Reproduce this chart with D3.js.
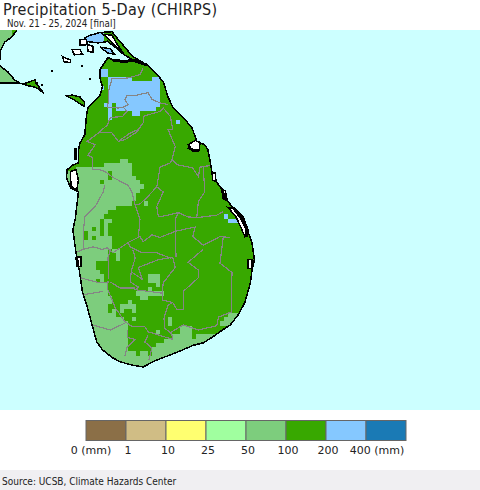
<!DOCTYPE html>
<html>
<head>
<meta charset="utf-8">
<script src="https://d3js.org/d3.v7.min.js"></script>
<style>
body { margin: 0; background: #fff; }
svg { display: block; }
text { font-family: "DejaVu Sans", sans-serif; fill: #222; }
text.condensed { font-family: "DejaVu Sans Condensed", "DejaVu Sans", sans-serif; font-stretch: condensed; }
</style>
</head>
<body>
<div id="chart"></div>
<script>
var width = 480;
var height = 490;

var titleText = "Precipitation 5-Day (CHIRPS)";
var subtitleText = "Nov. 21 - 25, 2024 [final]";
var sourceText = "Source: UCSB, Climate Hazards Center";

var classLabels = ["0 (mm)", "1", "10", "25", "50", "100", "200", "400 (mm)"];
var classColors = ["#8b6f47", "#d0bd85", "#ffff70", "#a0ff9f", "#7dcd7d", "#38a800", "#85c8ff", "#1a7ab5"];

// coastline, lon/lat
var mainland = [[79.96,9.76],[80.03,9.79],[80.15,9.82],[80.30,9.83],[80.36,9.76],[80.46,9.65],[80.56,9.54],[80.74,9.44],[80.86,9.33],[80.94,9.25],[81.00,9.07],[81.06,8.95],[81.18,8.84],[81.30,8.71],[81.36,8.55],[81.46,8.51],[81.50,8.45],[81.53,8.30],[81.56,8.14],[81.65,8.02],[81.71,7.96],[81.75,7.85],[81.81,7.78],[81.93,7.67],[81.99,7.52],[82.05,7.37],[82.08,7.17],[82.05,7.05],[82.03,6.90],[81.96,6.67],[81.88,6.53],[81.78,6.41],[81.68,6.35],[81.56,6.27],[81.44,6.20],[81.31,6.17],[81.19,6.12],[81.03,6.06],[80.86,6.00],[80.69,5.92],[80.55,5.94],[80.40,5.98],[80.30,6.03],[80.18,6.12],[80.11,6.21],[80.05,6.41],[79.99,6.62],[79.93,6.80],[79.89,7.05],[79.86,7.19],[79.81,7.52],[79.84,7.64],[79.88,7.96],[79.78,8.01],[79.73,8.13],[79.74,8.22],[79.80,8.27],[79.88,8.30],[79.88,8.45],[79.90,8.53],[79.96,8.63],[79.98,8.84],[80.00,8.95],[80.15,9.09],[80.18,9.19],[80.15,9.29],[80.15,9.39],[80.25,9.53],[80.31,9.50],[80.46,9.48],[80.56,9.50],[80.44,9.57],[80.34,9.65],[80.24,9.72],[80.21,9.71],[80.13,9.70],[80.03,9.71],[79.96,9.72]];
var mannar = [[79.73,9.08],[79.80,9.09],[79.90,9.07],[79.96,9.00],[79.95,8.96],[79.85,9.02],[79.78,9.06]];
var lagoonShore = [[80.15,9.65],[80.28,9.63],[80.33,9.57],[80.25,9.58]];
var indiaNorth = [[78.9,9.85],[79.11,9.85],[79.05,9.77],[78.96,9.71],[78.91,9.62],[78.9,9.50]];
var indiaSouth = [[78.9,9.43],[79.0,9.36],[79.08,9.27],[79.15,9.23],[78.9,9.23]];
var rameswaram = [[79.19,9.22],[79.28,9.25],[79.34,9.27],[79.35,9.23],[79.45,9.11],[79.35,9.18],[79.25,9.20]];

// lagoons and little islands, drawn white
var waterBodies = [
	[[80.19,9.80],[80.30,9.79],[80.36,9.69],[80.44,9.58],[80.36,9.65],[80.26,9.74]],
	[[79.78,8.20],[79.85,8.22],[79.88,8.10],[79.86,7.98],[79.79,8.03],[79.78,8.13]],
	[[81.25,8.51],[81.34,8.56],[81.40,8.54],[81.39,8.45],[81.31,8.45]],
	[[81.75,7.78],[81.81,7.77],[81.91,7.65],[81.98,7.52],[81.96,7.44],[81.91,7.55],[81.85,7.67]],
	[[81.55,8.18],[81.59,8.18],[81.60,8.08],[81.56,8.10]],
	[[81.68,7.99],[81.72,7.97],[81.73,7.86],[81.69,7.88]],
	[[79.87,7.20],[79.91,7.20],[79.91,7.09],[79.87,7.09]],
	[[82.00,7.17],[82.05,7.17],[82.05,7.07],[82.00,7.07]],
	[[79.68,9.54],[79.78,9.50],[79.78,9.47],[79.70,9.48]],
	[[79.80,9.62],[79.90,9.62],[79.93,9.57],[79.83,9.56]],
	[[79.90,9.74],[79.98,9.74],[79.99,9.68],[79.90,9.67]],
	[[79.99,9.68],[80.06,9.66],[80.06,9.59],[80.00,9.60]]
];
// shores that read as solid black at this scale
var heavyCoast = [
	[[80.31,9.50],[80.46,9.48],[80.56,9.50],[80.74,9.44]],
	[[81.25,8.48],[81.31,8.45],[81.39,8.45]],
	[[81.81,7.78],[81.93,7.67],[81.99,7.52],[81.98,7.44]],
	[[79.85,8.47],[79.84,8.40],[79.85,8.33]],
	[[81.68,7.99],[81.70,7.88]],
	[[79.86,7.20],[79.87,7.09]]
];
var isletLon = [80.03, 79.55, 79.93, 79.42, 79.36];
var isletLat = [9.28, 9.37, 9.43, 9.21, 9.23];

// district lines, lon/lat
var districts = [
	[[80.69,9.41],[80.65,9.33],[80.50,9.29],[80.30,9.28],[80.26,9.15],[80.26,9.04],[80.24,8.95],[80.38,8.94],[80.44,8.95],[80.50,8.98],[80.46,9.04],[80.49,9.09],[80.61,9.09],[80.75,9.12],[80.80,9.04],[80.90,9.00],[81.00,8.98]],
	[[80.44,8.95],[80.49,8.90],[80.43,8.84],[80.28,8.83],[80.24,8.74],[80.13,8.65]],
	[[80.69,8.84],[80.75,8.86],[80.90,8.90],[80.94,8.94],[81.03,8.84],[81.06,8.69],[81.00,8.69],[81.09,8.49],[81.05,8.34],[81.03,8.30],[80.90,8.25],[80.86,8.02],[80.74,7.90],[80.65,7.82],[80.59,7.81],[80.55,7.96],[80.50,8.04],[80.31,8.13],[80.21,8.20],[80.15,8.22],[80.06,8.22],[80.06,8.36],[80.00,8.39],[80.09,8.51],[79.99,8.55],[80.13,8.65],[80.30,8.65],[80.38,8.55],[80.46,8.57],[80.61,8.66],[80.69,8.77],[80.69,8.84]],
	[[80.38,8.55],[80.53,8.65],[80.63,8.69],[80.69,8.77]],
	[[81.05,8.34],[81.11,8.28],[81.31,8.24],[81.38,8.14],[81.40,8.25],[81.53,8.27]],
	[[81.44,8.25],[81.46,7.96],[81.38,7.85],[81.36,7.66],[81.25,7.67],[81.13,7.72],[81.00,7.69],[80.88,7.67],[80.86,7.79],[80.94,7.96],[80.86,8.02]],
	[[81.13,7.72],[81.09,7.64],[81.10,7.20]],
	[[81.36,7.66],[81.61,7.69],[81.69,7.73]],
	[[80.21,8.04],[80.19,7.96],[80.09,7.79],[79.96,7.67],[79.94,7.48],[79.94,7.29],[79.86,7.26]],
	[[79.94,7.29],[80.06,7.32],[80.18,7.29],[80.24,7.31],[80.31,7.25],[80.50,7.37],[80.65,7.44],[80.69,7.38],[80.80,7.46],[80.90,7.43],[81.09,7.50],[81.18,7.52],[81.34,7.55],[81.31,7.44],[81.44,7.34],[81.65,7.44],[81.78,7.43]],
	[[80.59,7.81],[80.65,7.64],[80.63,7.44]],
	[[80.50,7.37],[80.53,7.32],[80.68,7.25],[80.86,7.25],[81.03,7.19],[81.06,7.20]],
	[[81.69,7.43],[81.65,7.13],[81.80,7.02],[81.79,6.56],[81.63,6.50],[81.61,6.40],[81.38,6.35],[81.19,6.41],[81.03,6.32],[80.96,6.37],[80.95,6.49],[81.00,6.64],[81.06,6.67]],
	[[80.56,7.29],[80.59,7.19],[80.54,7.03],[80.53,6.91],[80.63,6.85],[80.59,6.82],[80.93,6.78],[80.94,6.90],[81.09,7.08],[81.06,7.20]],
	[[80.63,7.08],[80.88,7.17],[81.06,7.20]],
	[[80.63,7.08],[80.68,6.94],[80.54,7.03]],
	[[81.44,7.29],[81.25,7.14],[81.38,7.05],[81.38,6.96],[81.19,6.80],[81.19,6.59],[81.11,6.59],[81.06,6.67],[80.93,6.70],[80.93,6.78]],
	[[79.90,6.96],[80.15,6.90],[80.25,6.91],[80.24,6.84],[80.34,6.61],[80.46,6.45],[80.55,6.39],[80.71,6.39],[80.75,6.33],[80.99,6.26],[81.06,6.24],[81.05,6.29],[81.03,6.32]],
	[[80.28,6.91],[80.40,6.84],[80.59,6.84]],
	[[79.93,6.76],[80.19,6.80]],
	[[80.05,6.41],[80.28,6.35],[80.46,6.43]],
	[[80.49,6.35],[80.50,6.26],[80.59,6.24],[80.49,6.15],[80.46,6.04]],
	[[80.75,6.29],[80.71,6.21],[80.80,6.14],[80.76,6.00]],
	[[80.28,7.29],[80.25,7.19],[80.26,6.94]]
];

// rainfall grid, 0.05 degree cells. everything on land not listed is 100-200 mm
var gridLon = 79.65;
var gridLat = 9.85;
var cellDeg = 0.05;
// [row, first col, end col]
var lightRuns = [
	[0,-15,-12],[1,-15,-12],[2,-15,-9],[3,-15,-9],[4,-15,-9],[5,-15,-9],[6,-15,-9],[7,-15,-9],[8,-15,-9],[9,-15,-9],[10,-15,-9],[11,-15,-9],[12,-15,-9],
	[30,15,17],[31,11,18],[32,4,18],[33,0,12],[33,13,18],[34,0,12],[34,13,19],[35,0,10],[35,11,20],[36,0,21],[37,0,20],[38,0,19],[39,0,19],[40,0,18],[40,21,22],
	[41,0,14],[42,0,12],[43,0,11],[44,0,10],[44,11,13],[45,0,10],[45,11,12],[46,0,8],[46,9,10],[46,11,12],[47,0,6],[47,7,10],[47,11,12],[48,0,6],[48,7,8],[48,9,13],
	[49,0,13],[50,0,13],[51,0,12],[51,13,15],[52,0,12],[52,14,15],[53,0,12],[53,14,15],[54,0,9],[55,0,9],[56,0,10],[57,0,11],[57,22,25],[58,0,9],[58,10,11],[58,22,25],
	[59,0,12],[59,24,25],[60,0,12],[60,22,23],[61,0,12],[61,19,26],[62,0,13],[62,20,22],[63,0,13],[63,17,18],[64,0,12],[64,15,19],[65,0,12],[65,13,14],[65,15,16],[65,18,19],
	[66,0,14],[66,42,45],[67,0,16],[67,18,19],[67,27,28],[67,41,44],[68,0,17],[68,27,28],[68,40,44],[69,0,17],[69,30,33],[70,0,17],[70,24,25],[70,30,33],
	[71,0,17],[71,28,33],[71,34,42],[72,0,17],[72,26,44],[73,0,17],[73,24,60],[74,0,17],[74,23,60],[75,0,19],[75,20,22],[75,23,60],
	[76,0,60],[77,0,60],[78,0,60],[79,0,60]
];
var blueRuns = [
	[0,7,11],[1,6,11],[2,6,11],[3,6,11],[4,9,13],[5,9,13],
	[9,10,12],[10,10,12],[11,12,18],[11,23,25],[12,12,25],[13,10,11],[13,12,25],[14,12,25],[15,12,25],[16,12,25],
	[17,11,13],[17,14,25],[18,12,13],[18,14,24],[19,12,13],[19,18,20],[20,12,13],[21,29,30],[43,41,42],[44,42,45]
];

var landShapes = [mainland, mannar, lagoonShore, indiaNorth, indiaSouth, rameswaram];
var closedCoast = [mainland, mannar, lagoonShore, rameswaram];
// the Indian shore runs off the frame, so it is not closed
var openCoast = [indiaNorth.slice(1), indiaSouth];

var x = d3.scaleLinear().domain([78.9, 84.9]).range([0, 480]);
var y = d3.scaleLinear().domain([9.85, 5.44]).range([30, 408]);
var line = d3.line().x(function(d) { return x(d[0]); }).y(function(d) { return y(d[1]); });
function ring(d) { return line(d) + "Z"; }

var svg = d3.select("#chart").append("svg")
	.attr("width", width)
	.attr("height", height);

svg.append("rect").attr("width", width).attr("height", height).attr("fill", "#fff");

// sea
svg.append("rect")
	.attr("x", 0).attr("y", 30)
	.attr("width", width).attr("height", 380)
	.attr("fill", "#ccffff");

svg.append("clipPath").attr("id", "land")
	.selectAll("path").data(landShapes).enter().append("path").attr("d", ring);
svg.append("clipPath").attr("id", "frame")
	.append("rect").attr("x", 0).attr("y", 30).attr("width", width).attr("height", 380);

var map = svg.append("g").attr("clip-path", "url(#frame)");

map.selectAll("path.land").data(landShapes).enter().append("path")
	.attr("class", "land")
	.attr("d", ring)
	.attr("fill", classColors[5]);

function drawRuns(runs, color) {
	map.append("g").attr("clip-path", "url(#land)")
		.selectAll("rect").data(runs).enter().append("rect")
		.attr("shape-rendering", "crispEdges")
		.attr("fill", color)
		.attr("x", function(d) { return x(gridLon + d[1] * cellDeg); })
		.attr("y", function(d) { return y(gridLat - d[0] * cellDeg); })
		.attr("width", function(d) { return x(gridLon + d[2] * cellDeg) - x(gridLon + d[1] * cellDeg); })
		.attr("height", function(d) { return y(gridLat - (d[0] + 1) * cellDeg) - y(gridLat - d[0] * cellDeg); });
}
drawRuns(lightRuns, classColors[4]);
drawRuns(blueRuns, classColors[6]);

map.selectAll("path.district").data(districts).enter().append("path")
	.attr("class", "district")
	.attr("d", line)
	.attr("fill", "none")
	.attr("stroke", "#858585")
	.attr("stroke-width", 1.2)
	.attr("shape-rendering", "crispEdges");

map.selectAll("path.coast").data(closedCoast).enter().append("path")
	.attr("class", "coast")
	.attr("d", ring)
	.attr("fill", "none")
	.attr("stroke", "#000")
	.attr("stroke-width", 1.5)
	.attr("shape-rendering", "crispEdges");

map.selectAll("path.shore").data(openCoast).enter().append("path")
	.attr("class", "shore")
	.attr("d", line)
	.attr("fill", "none")
	.attr("stroke", "#000")
	.attr("stroke-width", 1.5)
	.attr("shape-rendering", "crispEdges");

map.selectAll("path.water").data(waterBodies).enter().append("path")
	.attr("class", "water")
	.attr("d", ring)
	.attr("fill", "#fff")
	.attr("stroke", "#000")
	.attr("stroke-width", 1.5)
	.attr("shape-rendering", "crispEdges");

map.selectAll("path.heavy").data(heavyCoast).enter().append("path")
	.attr("class", "heavy")
	.attr("d", line)
	.attr("fill", "none")
	.attr("stroke", "#000")
	.attr("stroke-width", 3)
	.attr("shape-rendering", "crispEdges");

map.selectAll("circle").data(isletLon).enter().append("circle")
	.attr("cx", function(d) { return x(d); })
	.attr("cy", function(d, i) { return y(isletLat[i]); })
	.attr("r", 1.2)
	.attr("fill", "#000")
	.attr("shape-rendering", "crispEdges");

// legend
var legendX = d3.scaleBand().domain(classLabels).range([86, 406]);

svg.selectAll("rect.key").data(classLabels).enter().append("rect")
	.attr("class", "key")
	.attr("x", function(d) { return legendX(d); })
	.attr("y", 420.5)
	.attr("width", legendX.bandwidth())
	.attr("height", 20)
	.attr("fill", function(d, i) { return classColors[i]; })
	.attr("stroke", "#666")
	.attr("stroke-width", 1);

svg.selectAll("text.key").data(classLabels).enter().append("text")
	.attr("class", "key")
	.attr("x", function(d, i) {
		if (i == 0) return legendX(d) + 5;
		if (i == classLabels.length - 1) return legendX(d) + 11;
		return legendX(d) + 2;
	})
	.attr("y", 454)
	.attr("text-anchor", "middle")
	.attr("font-size", 11)
	.text(function(d) { return d; });

svg.append("text").attr("class", "condensed").attr("x", 3).attr("y", 15).attr("font-size", 16)
	.attr("textLength", 214).text(titleText);
svg.append("text").attr("class", "condensed").attr("x", 7).attr("y", 27).attr("font-size", 9.7).text(subtitleText);

svg.append("rect").attr("x", 0).attr("y", 470).attr("width", width).attr("height", 20).attr("fill", "#f0eff2");
svg.append("text").attr("class", "condensed").attr("x", 2).attr("y", 485).attr("font-size", 10).text(sourceText);
</script>
</body>
</html>
